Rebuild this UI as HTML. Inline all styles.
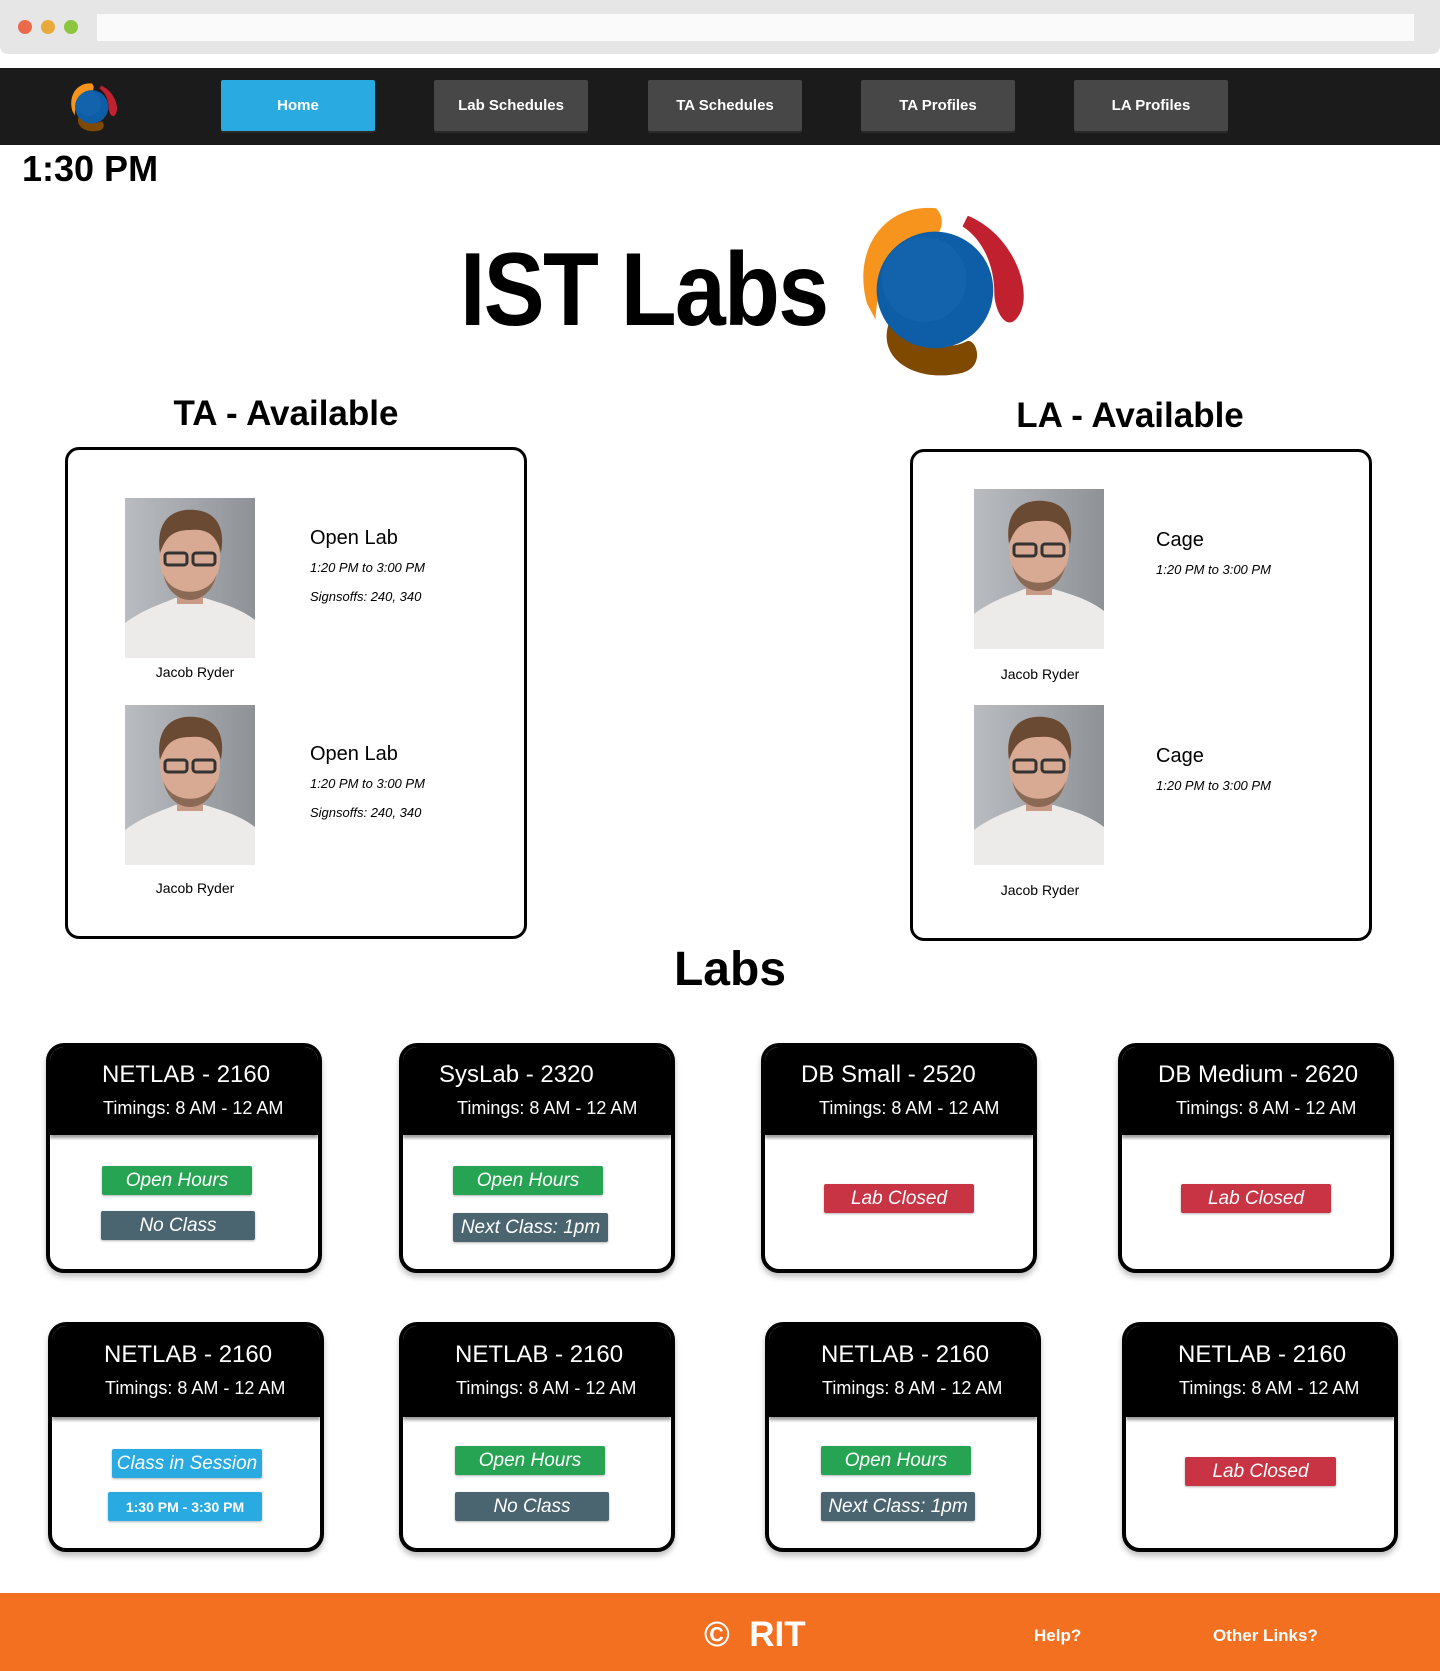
<!DOCTYPE html>
<html><head><meta charset="utf-8"><style>
*{margin:0;padding:0;box-sizing:border-box}
body{width:1440px;height:1671px;position:relative;background:#fff;font-family:"Liberation Sans",sans-serif;overflow:hidden}
.a{position:absolute}
.btn{position:absolute;top:80px;width:154px;height:51px;background:#474747;color:#fff;font-weight:bold;font-size:15px;display:flex;align-items:center;justify-content:center;border-radius:2px;box-shadow:0 2px 0 #2a2a2a}
.h2{position:absolute;font-weight:bold;font-size:35px;transform:translateX(-50%);white-space:nowrap;line-height:1}
.box{position:absolute;border:3px solid #000;border-radius:14px}
.photo{position:absolute;width:130px;height:160px}
.nm{position:absolute;font-size:14px;transform:translateX(-50%);white-space:nowrap}
.t1{position:absolute;font-size:20px}
.t2{position:absolute;font-size:13px;font-style:italic}
.card{position:absolute;width:276px;height:230px;border:4px solid #000;border-radius:18px;overflow:hidden;background:#fff;box-shadow:0 4px 6px rgba(0,0,0,.25)}
.card .hd{position:absolute;left:0;top:0;right:0;height:88px;background:#000;color:#fff;box-shadow:0 3px 3px rgba(0,0,0,.4)}
.card .ti{position:absolute;top:14px;font-size:24px;white-space:nowrap}
.card .tm{position:absolute;top:51px;font-size:18px;white-space:nowrap}
.bd{position:absolute;height:29px;color:#fff;font-style:italic;font-size:19px;display:flex;align-items:center;justify-content:center;border-radius:2px;box-shadow:0 1px 2px rgba(0,0,0,.3)}
.g{background:#27a453}.s{background:#4a6570}.r{background:#c93444}.b{background:#29abe2}
</style></head><body>
<div class="a" style="left:0;top:0;width:1440px;height:54px;background:#e6e6e6;border-radius:0 0 8px 8px"></div>
<div class="a" style="left:18px;top:20px;width:14px;height:14px;border-radius:50%;background:#ec6a4c"></div>
<div class="a" style="left:41px;top:20px;width:14px;height:14px;border-radius:50%;background:#e8a93a"></div>
<div class="a" style="left:64px;top:20px;width:14px;height:14px;border-radius:50%;background:#8cc63f"></div>
<div class="a" style="left:97px;top:14px;width:1317px;height:27px;background:#fafafa"></div>

<div class="a" style="left:0;top:68px;width:1440px;height:77px;background:#1b1b1b"></div>
<svg class="a" style="left:66px;top:82px" width="52" height="50" viewBox="0 0 170 165">
<g id="lg"><path d="M20,95 C5,40 40,0 85,5 C95,15 90,30 80,35 C45,40 30,70 28,110 Z" fill="#f7941d"/>
<path d="M115,12 C160,30 180,90 160,110 C150,120 140,100 140,85 C140,60 130,35 110,22 Z" fill="#c1202f"/>
<path d="M40,115 C30,150 70,170 110,160 C130,155 125,130 115,130 C95,140 70,135 60,110 Z" fill="#7f4a00"/>
<circle cx="84" cy="82" r="55" fill="#0d5ea6"/><circle cx="74" cy="72" r="40" fill="#1565b0" opacity=".6"/></g></svg>
<div class="btn" style="left:221px;background:#29abe2">Home</div>
<div class="btn" style="left:434px">Lab Schedules</div>
<div class="btn" style="left:648px">TA Schedules</div>
<div class="btn" style="left:861px">TA Profiles</div>
<div class="btn" style="left:1074px">LA Profiles</div>

<div class="a" style="left:22px;top:148px;font-size:36px;font-weight:bold">1:30 PM</div>
<div class="a" style="left:460px;top:238px;font-size:104px;font-weight:bold;letter-spacing:-2px;line-height:1;transform:scaleX(0.88);transform-origin:left top;white-space:nowrap">IST Labs</div>
<svg class="a" style="left:845px;top:203px" width="182" height="175" viewBox="0 0 170 165"><use href="#lg"/></svg>

<div class="h2" style="left:286px;top:396px">TA - Available</div>
<div class="h2" style="left:1130px;top:398px">LA - Available</div>
<div class="box" style="left:65px;top:447px;width:462px;height:492px"></div>
<div class="box" style="left:910px;top:449px;width:462px;height:492px"></div>

<svg width="0" height="0" style="position:absolute"><defs>
<linearGradient id="bg" x1="0" x2="1"><stop offset="0" stop-color="#b9bcc0"/><stop offset="1" stop-color="#8e9296"/></linearGradient>
<g id="ph"><rect width="130" height="160" fill="url(#bg)"/>
<path d="M0,160 L0,125 C20,110 40,105 50,100 L80,100 C95,105 115,110 130,122 L130,160Z" fill="#ecebea"/>
<rect x="52" y="78" width="26" height="28" fill="#c99a85"/>
<ellipse cx="65" cy="60" rx="30" ry="40" fill="#d8aa93"/>
<path d="M35,55 C30,20 50,10 70,12 C95,14 100,35 96,55 C92,40 85,30 65,32 C45,32 40,42 35,55Z" fill="#6b4a33"/>
<path d="M38,75 C45,100 85,100 92,75 C88,95 75,102 65,102 C55,102 42,95 38,75Z" fill="#8a6a55"/>
<rect x="40" y="55" width="22" height="12" rx="3" fill="none" stroke="#333" stroke-width="3"/>
<rect x="68" y="55" width="22" height="12" rx="3" fill="none" stroke="#333" stroke-width="3"/></g></defs></svg>

<svg class="photo" style="left:125px;top:498px" viewBox="0 0 130 160"><use href="#ph"/></svg>
<svg class="photo" style="left:125px;top:705px" viewBox="0 0 130 160"><use href="#ph"/></svg>
<svg class="photo" style="left:974px;top:489px" viewBox="0 0 130 160"><use href="#ph"/></svg>
<svg class="photo" style="left:974px;top:705px" viewBox="0 0 130 160"><use href="#ph"/></svg>
<div class="nm" style="left:195px;top:664px">Jacob Ryder</div>
<div class="nm" style="left:195px;top:880px">Jacob Ryder</div>
<div class="nm" style="left:1040px;top:666px">Jacob Ryder</div>
<div class="nm" style="left:1040px;top:882px">Jacob Ryder</div>
<div class="t1" style="left:310px;top:527px">Open Lab</div>
<div class="t2" style="left:310px;top:560px">1:20 PM to 3:00 PM</div>
<div class="t2" style="left:310px;top:589px">Signsoffs: 240, 340</div>
<div class="t1" style="left:310px;top:743px">Open Lab</div>
<div class="t2" style="left:310px;top:776px">1:20 PM to 3:00 PM</div>
<div class="t2" style="left:310px;top:805px">Signsoffs: 240, 340</div>
<div class="t1" style="left:1156px;top:529px">Cage</div>
<div class="t2" style="left:1156px;top:562px">1:20 PM to 3:00 PM</div>
<div class="t1" style="left:1156px;top:745px">Cage</div>
<div class="t2" style="left:1156px;top:778px">1:20 PM to 3:00 PM</div>

<div class="h2" style="left:730px;top:946px;font-size:48px">Labs</div>

<div class="card" style="left:46px;top:1043px"><div class="hd"><div class="ti" style="left:52px">NETLAB - 2160</div><div class="tm" style="left:53px">Timings: 8 AM - 12 AM</div></div></div>
<div class="card" style="left:399px;top:1043px"><div class="hd"><div class="ti" style="left:36px">SysLab - 2320</div><div class="tm" style="left:54px">Timings: 8 AM - 12 AM</div></div></div>
<div class="card" style="left:761px;top:1043px"><div class="hd"><div class="ti" style="left:36px">DB Small - 2520</div><div class="tm" style="left:54px">Timings: 8 AM - 12 AM</div></div></div>
<div class="card" style="left:1118px;top:1043px"><div class="hd"><div class="ti" style="left:36px">DB Medium - 2620</div><div class="tm" style="left:54px">Timings: 8 AM - 12 AM</div></div></div>
<div class="card" style="left:48px;top:1322px"><div class="hd" style="height:91px"><div class="ti" style="left:52px;top:15px">NETLAB - 2160</div><div class="tm" style="left:53px;top:52px">Timings: 8 AM - 12 AM</div></div></div>
<div class="card" style="left:399px;top:1322px"><div class="hd" style="height:91px"><div class="ti" style="left:52px;top:15px">NETLAB - 2160</div><div class="tm" style="left:53px;top:52px">Timings: 8 AM - 12 AM</div></div></div>
<div class="card" style="left:765px;top:1322px"><div class="hd" style="height:91px"><div class="ti" style="left:52px;top:15px">NETLAB - 2160</div><div class="tm" style="left:53px;top:52px">Timings: 8 AM - 12 AM</div></div></div>
<div class="card" style="left:1122px;top:1322px"><div class="hd" style="height:91px"><div class="ti" style="left:52px;top:15px">NETLAB - 2160</div><div class="tm" style="left:53px;top:52px">Timings: 8 AM - 12 AM</div></div></div>

<div class="bd g" style="left:102px;top:1166px;width:150px">Open Hours</div>
<div class="bd s" style="left:101px;top:1211px;width:154px">No Class</div>
<div class="bd g" style="left:453px;top:1166px;width:150px">Open Hours</div>
<div class="bd s" style="left:453px;top:1213px;width:155px">Next Class: 1pm</div>
<div class="bd r" style="left:824px;top:1184px;width:150px">Lab Closed</div>
<div class="bd r" style="left:1181px;top:1184px;width:150px">Lab Closed</div>
<div class="bd b" style="left:112px;top:1449px;width:150px">Class in Session</div>
<div class="bd b" style="left:108px;top:1492px;width:154px;font-style:normal;font-weight:bold;font-size:14px">1:30 PM - 3:30 PM</div>
<div class="bd g" style="left:455px;top:1446px;width:150px">Open Hours</div>
<div class="bd s" style="left:455px;top:1492px;width:154px">No Class</div>
<div class="bd g" style="left:821px;top:1446px;width:150px">Open Hours</div>
<div class="bd s" style="left:821px;top:1492px;width:154px">Next Class: 1pm</div>
<div class="bd r" style="left:1185px;top:1457px;width:151px">Lab Closed</div>

<div class="a" style="left:0;top:1593px;width:1440px;height:78px;background:#f37021"></div>
<div class="a" style="left:704px;top:1615px;font-size:35px;font-weight:bold;color:#fff">©&nbsp; RIT</div>
<div class="a" style="left:1034px;top:1626px;font-size:17px;font-weight:bold;color:#fff">Help?</div>
<div class="a" style="left:1213px;top:1626px;font-size:17px;font-weight:bold;color:#fff">Other Links?</div>
</body></html>
